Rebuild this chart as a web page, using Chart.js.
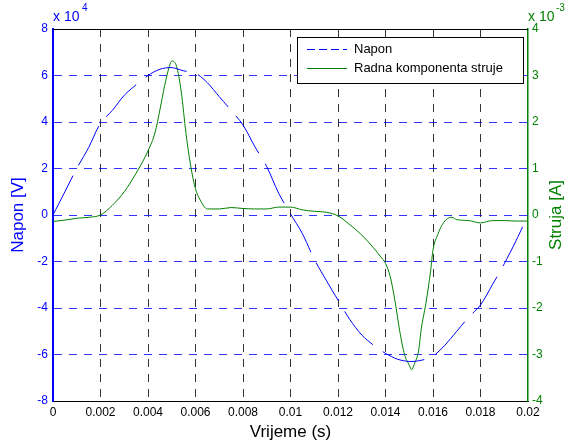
<!DOCTYPE html>
<html>
<head>
<meta charset="utf-8">
<script src="https://cdn.jsdelivr.net/npm/chart.js@4.4.1/dist/chart.umd.min.js"></script>
<style>
  html, body { margin: 0; padding: 0; background: #fff; }
  #wrap { width: 572px; height: 446px; }
</style>
</head>
<body>
<div id="wrap"><canvas id="c" width="572" height="446"></canvas></div>
<script>
// Napon (x 10^4 V)
const timeNapon = [0, 0.0005, 0.001, 0.0015, 0.002, 0.0025, 0.003, 0.0035, 0.004, 0.0045,
  0.005, 0.0055, 0.006, 0.0065, 0.007, 0.0075, 0.008, 0.0085, 0.009, 0.0095,
  0.01, 0.0105, 0.011, 0.0115, 0.012, 0.0125, 0.013, 0.0135, 0.014, 0.0145,
  0.015, 0.0155, 0.016, 0.0165, 0.017, 0.0175, 0.018, 0.0185, 0.019, 0.0195, 0.02];
const napon = [0, 1.0, 2.0, 2.9, 3.95, 4.5, 5.15, 5.6, 6.0, 6.27,
  6.34, 6.2, 6.1, 5.69, 5.09, 4.5, 3.87, 2.94, 2.08, 0.94,
  0.05, -0.8, -1.9, -2.8, -3.66, -4.5, -5.16, -5.6, -5.95, -6.2,
  -6.3, -6.25, -6.07, -5.6, -5.0, -4.4, -3.87, -3.0, -2.1, -1.1, 0.0];

// Radna komponenta struje (x 10^-3 A)
const timeStruja = [0, 0.0005, 0.001, 0.0015, 0.002, 0.0025, 0.003, 0.0035, 0.004, 0.0043,
  0.0045, 0.0047, 0.0049, 0.005, 0.0052, 0.0054, 0.0056, 0.0058, 0.006, 0.0062,
  0.0065, 0.007, 0.0075, 0.008, 0.0085, 0.009, 0.0095, 0.01, 0.0105, 0.011,
  0.0115, 0.012, 0.0125, 0.013, 0.0135, 0.0138, 0.014, 0.0142, 0.0144, 0.0146,
  0.0148, 0.015, 0.0151, 0.0152, 0.0154, 0.0155, 0.0157, 0.0159, 0.016, 0.0162,
  0.0164, 0.0166, 0.0168, 0.017, 0.0175, 0.018, 0.0185, 0.019, 0.0195, 0.02];
const struja = [-0.14, -0.11, -0.07, -0.05, 0.0, 0.21, 0.5, 0.9, 1.38, 1.78,
  2.26, 2.78, 3.2, 3.31, 3.2, 2.65, 1.75, 1.05, 0.56, 0.32,
  0.13, 0.13, 0.16, 0.14, 0.13, 0.13, 0.17, 0.17, 0.11, 0.08,
  0.06, -0.02, -0.21, -0.43, -0.71, -0.9, -1.04, -1.33, -1.85, -2.5,
  -3.0, -3.23, -3.33, -3.22, -2.9, -2.47, -1.9, -1.2, -0.75, -0.42,
  -0.2, -0.08, -0.05, -0.1, -0.12, -0.17, -0.12, -0.12, -0.13, -0.13];

const xTicks = [0, 0.002, 0.004, 0.006, 0.008, 0.01, 0.012, 0.014, 0.016, 0.018, 0.02];
const naponTicks = [-8, -6, -4, -2, 0, 2, 4, 6, 8];
const strujaTicks = [-4, -3, -2, -1, 0, 1, 2, 3, 4];

const BLUE = "#0000ff";
const GREEN = "#008000";
const FONT = "'Liberation Sans', Arial, Helvetica, sans-serif";

// hide grid lines that would sit on the box edges
const innerOnly = (color, n) => c => (c.index === 0 || c.index === n - 1) ? "rgba(0,0,0,0)" : color;

const overlay = {
  id: "overlay",
  afterDraw(chart) {
    const { ctx, chartArea: a } = chart;
    ctx.save();

    // top box line
    ctx.strokeStyle = "#000";
    ctx.lineWidth = 1;
    ctx.beginPath();
    ctx.moveTo(a.left, a.top + 0.5);
    ctx.lineTo(a.right, a.top + 0.5);
    ctx.stroke();

    // axis titles
    ctx.font = "17px " + FONT;
    ctx.textAlign = "center";
    ctx.textBaseline = "middle";
    ctx.fillStyle = "#000";
    ctx.fillText("Vrijeme (s)", (a.left + a.right) / 2, 432);

    ctx.save();
    ctx.translate(18, (a.top + a.bottom) / 2);
    ctx.rotate(-Math.PI / 2);
    ctx.fillStyle = BLUE;
    ctx.fillText("Napon [V]", 0, 0);
    ctx.restore();

    ctx.save();
    ctx.translate(556, (a.top + a.bottom) / 2);
    ctx.rotate(-Math.PI / 2);
    ctx.fillStyle = GREEN;
    ctx.fillText("Struja [A]", 0, 0);
    ctx.restore();

    // exponent labels
    ctx.textAlign = "left";
    ctx.font = "14px " + FONT;
    ctx.fillStyle = BLUE;
    ctx.fillText("x 10", a.left, 17);
    ctx.font = "10px " + FONT;
    ctx.fillText("4", a.left + 29, 8);
    ctx.font = "14px " + FONT;
    ctx.fillStyle = GREEN;
    ctx.fillText("x 10", a.right, 17);
    ctx.font = "10px " + FONT;
    ctx.fillText("-3", a.right + 28, 8);

    // legend
    const lx = 297, ly = 37, lw = 226, lh = 46;
    ctx.fillStyle = "#fff";
    ctx.fillRect(lx, ly, lw, lh);
    ctx.strokeStyle = "#000";
    ctx.lineWidth = 1;
    ctx.strokeRect(lx + 0.5, ly + 0.5, lw, lh);

    ctx.lineWidth = 1;
    ctx.strokeStyle = BLUE;
    ctx.setLineDash([8, 4]);
    ctx.beginPath();
    ctx.moveTo(lx + 10, ly + 12.5);
    ctx.lineTo(lx + 50, ly + 12.5);
    ctx.stroke();
    ctx.setLineDash([]);
    ctx.strokeStyle = GREEN;
    ctx.beginPath();
    ctx.moveTo(lx + 10, ly + 31.5);
    ctx.lineTo(lx + 50, ly + 31.5);
    ctx.stroke();

    ctx.font = "13px " + FONT;
    ctx.fillStyle = "#000";
    ctx.textBaseline = "middle";
    ctx.fillText("Napon", lx + 57, ly + 12);
    ctx.fillText("Radna komponenta struje", lx + 57, ly + 31);

    ctx.restore();
  }
};

new Chart(document.getElementById("c"), {
  type: "line",
  data: {
    datasets: [
      {
        label: "Napon",
        data: timeNapon.map((t, i) => ({ x: t, y: napon[i] })),
        yAxisID: "yV",
        borderColor: BLUE,
        borderWidth: 1,
        borderDash: [44, 12],
        pointRadius: 0,
        tension: 0.3,
        fill: false
      },
      {
        label: "Radna komponenta struje",
        data: timeStruja.map((t, i) => ({ x: t, y: struja[i] })),
        yAxisID: "yI",
        borderColor: GREEN,
        borderWidth: 1,
        pointRadius: 0,
        cubicInterpolationMode: "monotone",
        fill: false
      }
    ]
  },
  options: {
    responsive: false,
    animation: false,
    events: [],
    layout: { padding: { top: 29, left: 0, right: 0, bottom: 0 } },
    plugins: { legend: { display: false }, tooltip: { enabled: false } },
    scales: {
      x: {
        type: "linear",
        min: 0,
        max: 0.02,
        afterFit(s) { s.height = 45; },
        afterBuildTicks(s) { s.ticks = xTicks.map(v => ({ value: v })); },
        ticks: {
          autoSkip: false,
          maxRotation: 0,
          padding: 4,
          color: "#000",
          font: { family: FONT, size: 12 },
          callback: v => String(+v.toFixed(4))
        },
        grid: { color: innerOnly("#333", xTicks.length), lineWidth: 1, drawTicks: false },
        border: { display: true, color: "#000", width: 1, dash: [8, 7] }
      },
      yV: {
        type: "linear",
        position: "left",
        min: -8,
        max: 8,
        afterFit(s) { s.width = 53; },
        afterBuildTicks(s) { s.ticks = naponTicks.map(v => ({ value: v })); },
        ticks: {
          padding: 5,
          color: BLUE,
          font: { family: FONT, size: 12 }
        },
        grid: { color: innerOnly("rgba(0,0,255,0.8)", naponTicks.length), lineWidth: 1, drawTicks: false },
        border: { display: true, color: BLUE, width: 2, dash: [8, 7] }
      },
      yI: {
        type: "linear",
        position: "right",
        min: -4,
        max: 4,
        afterFit(s) { s.width = 44; },
        afterBuildTicks(s) { s.ticks = strujaTicks.map(v => ({ value: v })); },
        ticks: {
          padding: 4,
          color: GREEN,
          font: { family: FONT, size: 12 }
        },
        grid: { display: false, drawTicks: false },
        border: { display: true, color: GREEN, width: 1.5 }
      }
    }
  },
  plugins: [overlay]
});
</script>
</body>
</html>
